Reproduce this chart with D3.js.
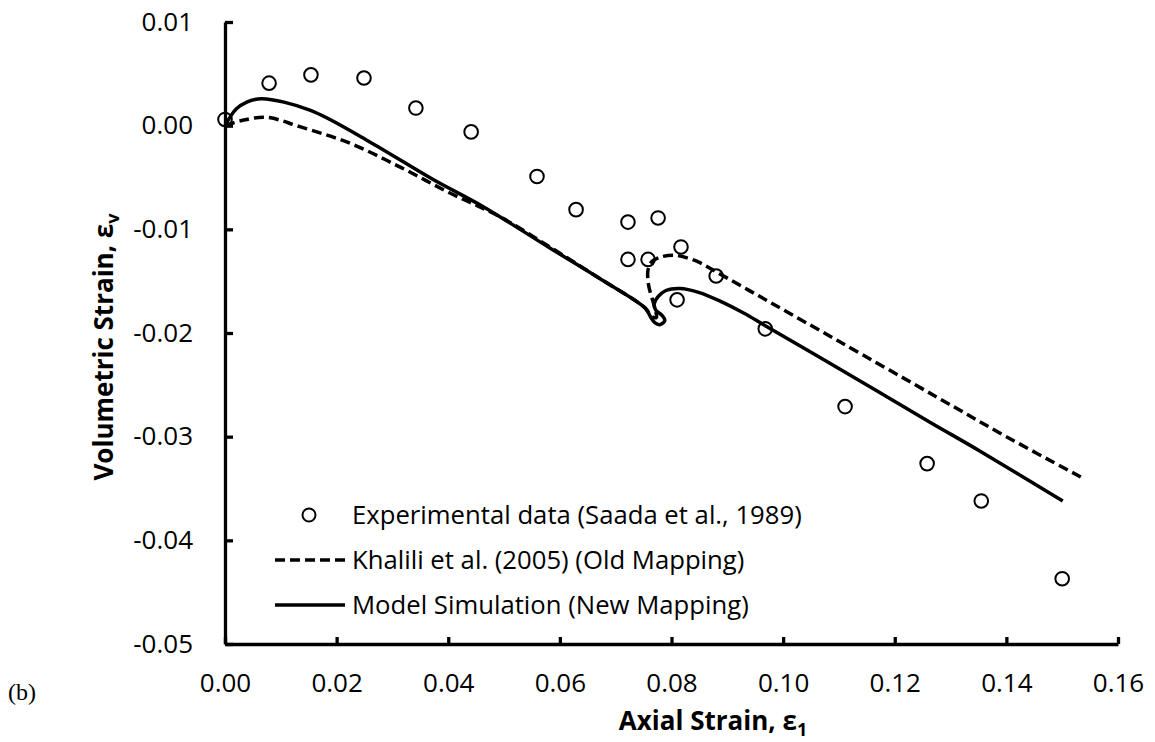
<!DOCTYPE html>
<html>
<head>
<meta charset="utf-8">
<script src="https://cdn.jsdelivr.net/npm/d3@7"></script>
<style>
  html, body { margin: 0; padding: 0; background: #fff; }
  svg { display: block; }
  .tick text { font-family: "Open Sans", sans-serif; font-size: 26px; fill: #000; }
</style>
</head>
<body>
<svg id="chart" width="1155" height="742"></svg>
<script>
// ---- Data ----
const xTicks = [0.00, 0.02, 0.04, 0.06, 0.08, 0.10, 0.12, 0.14, 0.16];
const yTicks = [0.01, 0.00, -0.01, -0.02, -0.03, -0.04, -0.05];

// Experimental data (Saada et al., 1989)
const expX = [0.0000, 0.0079, 0.0154, 0.0249, 0.0342, 0.0441, 0.0559, 0.0629, 0.0722, 0.0776,
              0.0722, 0.0758, 0.0817, 0.0880, 0.0810, 0.0968, 0.1111, 0.1258, 0.1355, 0.1500];
const expY = [0.0006, 0.0041, 0.0049, 0.0046, 0.0017, -0.0006, -0.0049, -0.0081, -0.0093, -0.0089,
              -0.0129, -0.0129, -0.0117, -0.0145, -0.0168, -0.0196, -0.0271, -0.0326, -0.0362, -0.0437];

// Khalili et al. (2005) (Old Mapping)
const khaliliX = [0.0000, 0.0030, 0.0075, 0.0134, 0.0224, 0.0314, 0.0403, 0.0493, 0.0582, 0.0670,
                  0.0753, 0.0764, 0.0773, 0.0771, 0.0766, 0.0759, 0.0758, 0.0765, 0.0779, 0.0806,
                  0.0846, 0.0880, 0.0926, 0.0982, 0.1100, 0.1276, 0.1400, 0.1537];
const khaliliY = [0.0000, 0.0005, 0.0008, -0.0001, -0.0017, -0.0040, -0.0065, -0.0088, -0.0117, -0.0147,
                  -0.0176, -0.0184, -0.0185, -0.0178, -0.0168, -0.0154, -0.0139, -0.0131, -0.0127, -0.0125,
                  -0.0131, -0.0141, -0.0155, -0.0172, -0.0208, -0.0262, -0.0300, -0.0340];

// Model Simulation (New Mapping)
const modelX = [0.0000, 0.0020, 0.0040, 0.0066, 0.0152, 0.0254, 0.0373, 0.0462, 0.0582, 0.0670,
                0.0753, 0.0762, 0.0770, 0.0779, 0.0788, 0.0783, 0.0772, 0.0769, 0.0776, 0.0790,
                0.0815, 0.0850, 0.0890, 0.0930, 0.0968, 0.1102, 0.1263, 0.1353, 0.1501];
const modelY = [0.0000, 0.0016, 0.0023, 0.0026, 0.0015, -0.0014, -0.0052, -0.0078, -0.0118, -0.0147,
                -0.0176, -0.0184, -0.0190, -0.0192, -0.0188, -0.0183, -0.0178, -0.0172, -0.0165, -0.0159,
                -0.0157, -0.0161, -0.0170, -0.0181, -0.0193, -0.0235, -0.0286, -0.0314, -0.0362];

const legendLabels = [
  "Experimental data (Saada et al., 1989)",
  "Khalili et al. (2005) (Old Mapping)",
  "Model Simulation (New Mapping)"
];

// ---- Layout ----
const svg = d3.select("#chart");
const x = d3.scaleLinear().domain([0, 0.16]).range([225, 1118]);
const y = d3.scaleLinear().domain([-0.05, 0.01]).range([644, 22]);

const line = d3.line()
  .x(d => x(d[0])).y(d => y(d[1]))
  .curve(d3.curveCatmullRom.alpha(0.5));

const kPts = khaliliX.map((v, i) => [v, khaliliY[i]]);
const mPts = modelX.map((v, i) => [v, modelY[i]]);
const ePts = expX.map((v, i) => [v, expY[i]]);

// Lines
svg.append("path").attr("d", line(kPts))
  .attr("fill", "none").attr("stroke", "#000").attr("stroke-width", 3.5)
  .attr("stroke-dasharray", "10,5");
svg.append("path").attr("d", line(mPts))
  .attr("fill", "none").attr("stroke", "#000").attr("stroke-width", 3.5)
  .attr("stroke-linejoin", "round");

// Experimental points
svg.append("g").selectAll("circle").data(ePts).join("circle")
  .attr("cx", d => x(d[0])).attr("cy", d => y(d[1])).attr("r", 6.8)
  .attr("fill", "none").attr("stroke", "#000").attr("stroke-width", 2);

// Axes
const xAxis = d3.axisBottom(x).tickValues(xTicks).tickFormat(d3.format(".2f"))
  .tickSizeInner(-7).tickSizeOuter(0).tickPadding(30);
const yAxis = d3.axisLeft(y).tickValues(yTicks).tickFormat(d3.format(".2f"))
  .tickSizeInner(-8).tickSizeOuter(0).tickPadding(32);

const gx = svg.append("g").attr("transform", `translate(0,${y(-0.05)})`).call(xAxis);
const gy = svg.append("g").attr("transform", `translate(${x(0)},0)`).call(yAxis);
[gx, gy].forEach(g => {
  g.select(".domain").attr("stroke", "#000").attr("stroke-width", 3.3);
  g.selectAll(".tick line").attr("stroke", "#000").attr("stroke-width", 3.3);
});
gy.selectAll(".tick text").text(d => d3.format(".2f")(d).replace("−", "-"));

// Axis titles
const xt = svg.append("text").attr("x", 713).attr("y", 730)
  .attr("text-anchor", "middle")
  .style("font-family", "'Open Sans', sans-serif").style("font-size", "26px").style("font-weight", "bold");
xt.append("tspan").text("Axial Strain, ε");
xt.append("tspan").attr("dy", 6).style("font-size", "18px").text("1");

const yt = svg.append("text")
  .attr("transform", "translate(113,347) rotate(-90)")
  .attr("text-anchor", "middle")
  .style("font-family", "'Open Sans', sans-serif").style("font-size", "26px").style("font-weight", "bold");
yt.append("tspan").text("Volumetric Strain, ε");
yt.append("tspan").attr("dy", 6).style("font-size", "18px").text("v");

// Legend
const lg = svg.append("g");
const lgY = [515, 560, 605];
lg.append("circle").attr("cx", 309).attr("cy", lgY[0]).attr("r", 6.5)
  .attr("fill", "none").attr("stroke", "#000").attr("stroke-width", 2);
lg.append("line").attr("x1", 275).attr("x2", 345).attr("y1", lgY[1]).attr("y2", lgY[1])
  .attr("stroke", "#000").attr("stroke-width", 3.5).attr("stroke-dasharray", "10,5");
lg.append("line").attr("x1", 275).attr("x2", 345).attr("y1", lgY[2]).attr("y2", lgY[2])
  .attr("stroke", "#000").attr("stroke-width", 3.5);
lg.selectAll("text").data(legendLabels).join("text")
  .attr("x", 352).attr("y", (d, i) => lgY[i]).attr("dy", "0.35em")
  .style("font-family", "'Open Sans', sans-serif").style("font-size", "25.7px")
  .text(d => d);

// Panel label
svg.append("text").attr("x", 8).attr("y", 700)
  .style("font-family", "'Liberation Serif', serif").style("font-size", "24px")
  .text("(b)");
</script>
</body>
</html>
